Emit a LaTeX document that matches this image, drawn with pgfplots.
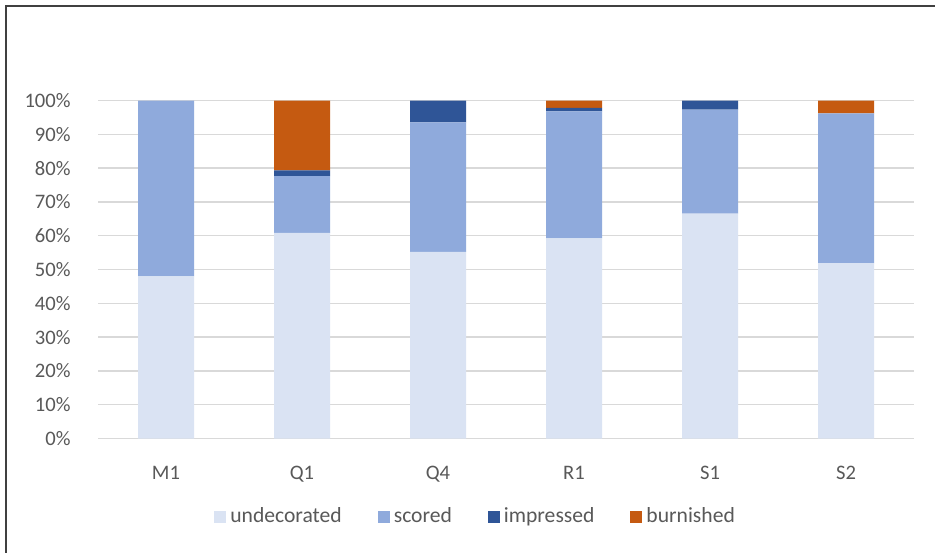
\documentclass[border=0pt]{standalone}
\usepackage{pgfplots}
\pgfplotsset{compat=1.18}
\usepackage{fontspec}
\setmainfont{Carlito}

\definecolor{undec}{HTML}{DAE3F3}
\definecolor{scored}{HTML}{8FAADC}
\definecolor{impr}{HTML}{2F5597}
\definecolor{burn}{HTML}{C55A11}
\definecolor{gridc}{HTML}{D9D9D9}
\definecolor{txt}{HTML}{595959}
\definecolor{framec}{HTML}{404040}

\begin{document}
\begin{tikzpicture}
% canvas: 1 px = 0.5 pt
\useasboundingbox (0,0) rectangle (467.5pt,276pt);
\fill[white] (0,0) rectangle (467.5pt,276pt);
% outer frame (left and top edges)
\draw[framec, line width=1pt] (3pt,-2pt) -- (3pt,273pt) -- (470pt,273pt);

\begin{axis}[
  at={(49pt,56.75pt)}, anchor=south west,
  scale only axis,
  width=408pt, height=169pt,
  ybar stacked,
  bar width=28pt,
  xmin=-0.5, xmax=5.5,
  ymin=0, ymax=100,
  xtick={0,1,2,3,4,5},
  xticklabels={M1,Q1,Q4,R1,S1,S2},
  ytick={0,10,...,100},
  yticklabel={\pgfmathprintnumber{\tick}\%},
  /pgf/number format/assume math mode=true,
  major tick length=0pt,
  axis line style={draw=none},
  ymajorgrids,
  grid style={gridc, line width=0.75pt},
  tick label style={font=\fontsize{10.3}{12}\selectfont, text=txt},
  xticklabel style={anchor=north, inner sep=0pt, yshift=-13.5pt},
  yticklabel style={anchor=east, inner sep=0pt, xshift=-13.5pt},
  clip=false,
  legend columns=4,
  legend style={
    at={(0.464,-0.232)}, anchor=center,
    draw=none, fill=none,
    font=\fontsize{10.8}{12}\selectfont, text=txt,
    /tikz/every even column/.append style={column sep=16pt},
  },
  legend image code/.code={\fill[#1] (0pt,-3pt) rectangle (6pt,3pt);},
  legend cell align=left,
]
\addplot[fill=undec, draw=none] coordinates {(0,48.0) (1,60.8) (2,55.2) (3,59.2) (4,66.5) (5,51.9)};
\addplot[fill=scored, draw=none] coordinates {(0,52.0) (1,16.8) (2,38.3) (3,37.6) (4,30.8) (5,44.3)};
\addplot[fill=impr, draw=none] coordinates {(0,0) (1,1.7) (2,6.5) (3,1.0) (4,2.7) (5,0)};
\addplot[fill=burn, draw=none] coordinates {(0,0) (1,20.7) (2,0) (3,2.2) (4,0) (5,3.8)};
\legend{undecorated,scored,impressed,burnished}
\end{axis}
\end{tikzpicture}
\end{document}
